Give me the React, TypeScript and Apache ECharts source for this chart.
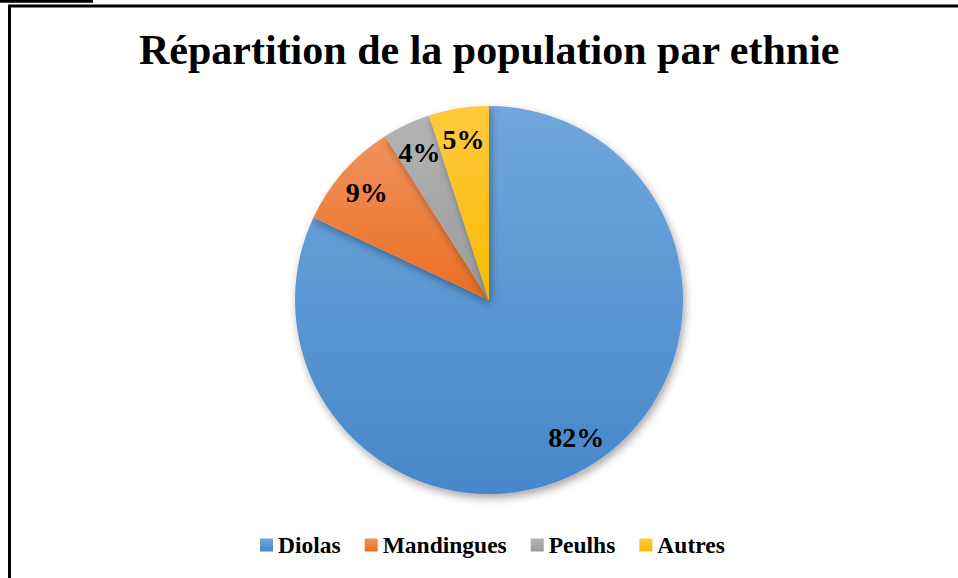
import React, { useEffect, useRef } from "react";
import * as echarts from "echarts";

const titleText = "Répartition de la population par ethnie";
const categories = ["Diolas", "Mandingues", "Peulhs", "Autres"];
const values = [82, 9, 4, 5];

const paletteTop = ["#70A7DC", "#F1925D", "#B3B3B3", "#FFC93F"];
const paletteBottom = ["#4787C9", "#EA6E22", "#9B9B9B", "#F5BC00"];

const SERIF = "Liberation Serif";

export default function App() {
  const ref = useRef<HTMLDivElement>(null);

  useEffect(() => {
    if (!ref.current) return;
    const chart = echarts.init(ref.current, undefined, { renderer: "svg" });

    const coloredData = categories.map((name, i) => ({
      name,
      value: values[i],
      itemStyle: {
        color: new echarts.graphic.LinearGradient(0, 0, 0, 1, [
          { offset: 0, color: paletteTop[i] },
          { offset: 1, color: paletteBottom[i] },
        ]),
      },
    }));

    const labelData = categories.map((name, i) => ({ name, value: values[i] }));

    chart.setOption({
      animation: false,
      backgroundColor: "#ffffff",
      title: {
        text: titleText,
        left: 134,
        top: 24,
        textStyle: {
          fontFamily: SERIF,
          fontWeight: "bold",
          fontSize: 42,
          color: "#000000",
        },
      },
      legend: {
        data: categories,
        left: 255,
        top: 528,
        icon: "rect",
        itemWidth: 13,
        itemHeight: 13,
        itemGap: 24,
        selectedMode: false,
        textStyle: {
          fontFamily: SERIF,
          fontWeight: "bold",
          fontSize: 23.5,
          color: "#000000",
        },
      },
      series: [
        {
          type: "pie",
          center: [489, 300],
          radius: [0, 194],
          startAngle: 90,
          clockwise: true,
          label: { show: false },
          labelLine: { show: false },
          emphasis: { disabled: true },
          itemStyle: {
            borderWidth: 0,
            shadowBlur: 8,
            shadowOffsetX: 2,
            shadowOffsetY: 4,
            shadowColor: "rgba(0,0,0,0.35)",
          },
          data: coloredData,
        },
        {
          type: "pie",
          center: [489, 300],
          radius: [126, 194],
          startAngle: 90,
          clockwise: true,
          silent: true,
          legendHoverLink: false,
          itemStyle: { color: "rgba(0,0,0,0)", borderWidth: 0 },
          emphasis: { disabled: true },
          labelLine: { show: false },
          label: {
            show: true,
            position: "inside",
            formatter: "{c}%",
            fontFamily: SERIF,
            fontWeight: "bold",
            fontSize: 28,
            color: "#000000",
          },
          data: labelData,
        },
      ],
      graphic: [
        {
          type: "rect",
          shape: { x: 9.5, y: 6, width: 1000, height: 1000 },
          style: { fill: "none", stroke: "#000000", lineWidth: 3 },
          silent: true,
        },
        {
          type: "rect",
          shape: { x: 0, y: 0, width: 93, height: 2.7 },
          style: { fill: "#000000" },
          silent: true,
        },
      ],
    });

    return () => chart.dispose();
  }, []);

  return (
    <div
      ref={ref}
      style={{ position: "fixed", left: 0, top: 0, width: 958, height: 578 }}
    />
  );
}
